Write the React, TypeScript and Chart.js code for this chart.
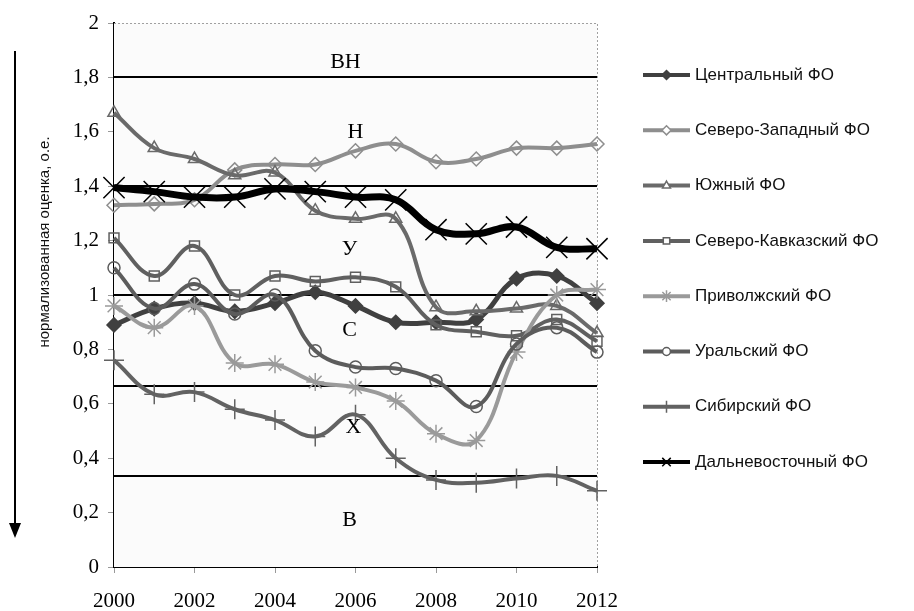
import React, { useEffect, useRef } from "react";
import { Chart, registerables } from "chart.js";
import { drawPoint } from "chart.js/helpers";

Chart.register(...registerables);

const years: number[] = [2000, 2001, 2002, 2003, 2004, 2005, 2006, 2007, 2008, 2009, 2010, 2011, 2012];

const seriesNames: string[] = [
  "Центральный ФО",
  "Северо-Западный ФО",
  "Южный ФО",
  "Северо-Кавказский ФО",
  "Приволжский ФО",
  "Уральский ФО",
  "Сибирский ФО",
  "Дальневосточный ФО",
];

const central: number[] = [0.89, 0.95, 0.97, 0.94, 0.97, 1.01, 0.96, 0.9, 0.9, 0.91, 1.06, 1.07, 0.97];
const northWest: number[] = [1.33, 1.335, 1.35, 1.46, 1.48, 1.48, 1.53, 1.555, 1.49, 1.5, 1.54, 1.54, 1.555];
const southern: number[] = [1.67, 1.54, 1.5, 1.44, 1.45, 1.31, 1.28, 1.28, 0.955, 0.94, 0.95, 0.96, 0.86];
const northCaucasus: number[] = [1.21, 1.07, 1.18, 1.0, 1.07, 1.05, 1.065, 1.03, 0.89, 0.865, 0.85, 0.91, 0.83];
const volga: number[] = [0.96, 0.88, 0.96, 0.75, 0.745, 0.68, 0.66, 0.61, 0.49, 0.465, 0.79, 1.0, 1.02];
const ural: number[] = [1.1, 0.95, 1.04, 0.93, 1.0, 0.795, 0.735, 0.73, 0.685, 0.59, 0.82, 0.88, 0.79];
const siberian: number[] = [0.76, 0.635, 0.643, 0.58, 0.54, 0.48, 0.56, 0.4, 0.32, 0.31, 0.325, 0.335, 0.28];
const farEast: number[] = [1.395, 1.38, 1.36, 1.36, 1.39, 1.38, 1.36, 1.35, 1.24, 1.225, 1.25, 1.175, 1.17];

const allSeries: number[][] = [central, northWest, southern, northCaucasus, volga, ural, siberian, farEast];

const thresholds: number[] = [1.8, 1.4, 1.0, 0.667, 0.333];
const zoneLabels: string[] = ["ВН", "Н", "У", "С", "Х", "В"];
const zoneLabelX: number[] = [2005.75, 2006.0, 2005.85, 2005.85, 2005.95, 2005.85];
const zoneLabelY: number[] = [1.856, 1.6, 1.17, 0.87, 0.515, 0.173];

const yTitle = "нормализованная оценка, о.е.";

const lineColors = ["#404040", "#8e8e8e", "#6a6a6a", "#606060", "#9a9a9a", "#5c5c5c", "#626262", "#000000"];
const lineWidths = [5, 4, 4, 4, 4, 4, 4, 7];
const pointStyles = ["rectRot", "rectRot", "triangle", "rect", "star", "circle", "cross", "crossRot"];
const pointRadii = [7, 7, 7, 7, 9, 6, 10, 15];
const pointFills = ["#404040", "rgba(0,0,0,0)", "rgba(0,0,0,0)", "rgba(0,0,0,0)", "rgba(0,0,0,0)", "rgba(0,0,0,0)", "rgba(0,0,0,0)", "rgba(0,0,0,0)"];
const pointBorderWidths = [1.5, 1.5, 1.5, 1.5, 1.5, 1.5, 1.5, 1.5];

const SERIF = "'Liberation Serif', 'Times New Roman', serif";
const SANS = "'Liberation Sans', Arial, sans-serif";

const decor = {
  id: "decor",
  beforeDatasetsDraw(chart: any) {
    const { ctx, chartArea: a, scales } = chart;
    const y = scales.y;
    ctx.save();
    ctx.fillStyle = "#fbfbfb";
    ctx.fillRect(a.left, a.top, a.right - a.left, a.bottom - a.top);
    ctx.strokeStyle = "#a0a0a0";
    ctx.lineWidth = 1;
    ctx.setLineDash([2, 2]);
    ctx.beginPath();
    ctx.moveTo(a.left, a.top + 0.5);
    ctx.lineTo(a.right + 0.5, a.top + 0.5);
    ctx.lineTo(a.right + 0.5, a.bottom);
    ctx.stroke();
    ctx.setLineDash([]);
    ctx.strokeStyle = "#000";
    ctx.lineWidth = 2;
    for (const t of thresholds) {
      const py = Math.round(y.getPixelForValue(t));
      ctx.beginPath();
      ctx.moveTo(a.left, py);
      ctx.lineTo(a.right, py);
      ctx.stroke();
    }
    ctx.restore();
  },
  afterDatasetsDraw(chart: any) {
    const { ctx, scales } = chart;
    ctx.save();
    ctx.fillStyle = "#000";
    ctx.font = `22px ${SERIF}`;
    ctx.textAlign = "center";
    ctx.textBaseline = "middle";
    zoneLabels.forEach((t, i) => {
      ctx.fillText(t, scales.x.getPixelForValue(zoneLabelX[i]), scales.y.getPixelForValue(zoneLabelY[i]));
    });
    ctx.restore();
  },
  afterDraw(chart: any) {
    const { ctx } = chart;
    ctx.save();
    ctx.translate(45, 242);
    ctx.rotate(-Math.PI / 2);
    ctx.fillStyle = "#111";
    ctx.font = `15px ${SANS}`;
    ctx.textAlign = "center";
    ctx.textBaseline = "middle";
    ctx.fillText(yTitle, 0, 0);
    ctx.restore();
    ctx.save();
    ctx.strokeStyle = "#000";
    ctx.fillStyle = "#000";
    ctx.lineWidth = 2;
    ctx.beginPath();
    ctx.moveTo(15, 51);
    ctx.lineTo(15, 526);
    ctx.stroke();
    ctx.beginPath();
    ctx.moveTo(9, 523);
    ctx.lineTo(21, 523);
    ctx.lineTo(15, 538);
    ctx.closePath();
    ctx.fill();
    ctx.restore();
    ctx.save();
    const x0 = 643, x1 = 690, tx = 695, top = 75, gap = 55.3;
    chart.data.datasets.forEach((ds: any, i: number) => {
      const yy = top + i * gap;
      ctx.strokeStyle = ds.borderColor;
      ctx.lineWidth = Math.min(ds.borderWidth, 4);
      ctx.beginPath();
      ctx.moveTo(x0, yy);
      ctx.lineTo(x1, yy);
      ctx.stroke();
      ctx.strokeStyle = ds.pointBorderColor;
      ctx.fillStyle = ds.pointBackgroundColor === "rgba(0,0,0,0)" ? "#ffffff" : ds.pointBackgroundColor;
      ctx.lineWidth = 1.5;
      drawPoint(ctx, { pointStyle: ds.pointStyle, radius: Math.min(ds.pointRadius * 0.65, 6), borderWidth: 1.5, rotation: 0 }, (x0 + x1) / 2, yy);
      ctx.fillStyle = "#111";
      ctx.font = `17px ${SANS}`;
      ctx.textAlign = "left";
      ctx.textBaseline = "middle";
      ctx.fillText(ds.label, tx, yy);
    });
    ctx.restore();
  },
};

export default function App() {
  const ref = useRef<HTMLCanvasElement | null>(null);
  useEffect(() => {
    document.body.style.margin = "0";
    const canvas = ref.current;
    if (!canvas) return;
    const n = allSeries.length;
    const chart = new Chart(canvas, {
      type: "line",
      data: {
        datasets: allSeries.map((vals, i) => ({
          label: seriesNames[i],
          data: vals.map((v, j) => ({ x: years[j], y: v })),
          borderColor: lineColors[i],
          borderWidth: lineWidths[i],
          pointStyle: pointStyles[i] as any,
          pointRadius: pointRadii[i],
          pointBorderColor: lineColors[i],
          pointBackgroundColor: pointFills[i],
          pointBorderWidth: pointBorderWidths[i],
          tension: 0.4,
          fill: false,
          clip: false as any,
          order: n - i,
        })),
      },
      options: {
        responsive: false,
        animation: false,
        events: [],
        layout: { padding: { top: 23, right: 317, bottom: 0, left: 0 } },
        plugins: { legend: { display: false }, tooltip: { enabled: false } },
        scales: {
          x: {
            type: "linear",
            min: 2000,
            max: 2012,
            afterFit: (s: any) => { s.height = 44; },
            ticks: {
              stepSize: 2,
              callback: (v: any) => String(v),
              font: { family: SERIF, size: 21 },
              color: "#000",
              padding: 16,
              maxRotation: 0,
            },
            grid: { drawOnChartArea: false, drawTicks: true, tickLength: 6, color: "#999" },
            border: { color: "#000", width: 2 },
          },
          y: {
            min: 0,
            max: 2,
            afterFit: (s: any) => { s.width = 114; },
            ticks: {
              stepSize: 0.2,
              callback: (v: any) => {
                const r = Math.round(Number(v) * 10) / 10;
                return Number.isInteger(r) ? String(r) : r.toFixed(1).replace(".", ",");
              },
              font: { family: SERIF, size: 21 },
              color: "#000",
              padding: 9,
            },
            grid: { drawOnChartArea: false, drawTicks: true, tickLength: 6, color: "#999" },
            border: { color: "#000", width: 2 },
          },
        },
      },
      plugins: [decor],
    });
    return () => chart.destroy();
  }, []);
  return (
    <div style={{ width: 914, height: 611, background: "#fff" }}>
      <canvas ref={ref} width={914} height={611} style={{ display: "block" }} />
    </div>
  );
}
